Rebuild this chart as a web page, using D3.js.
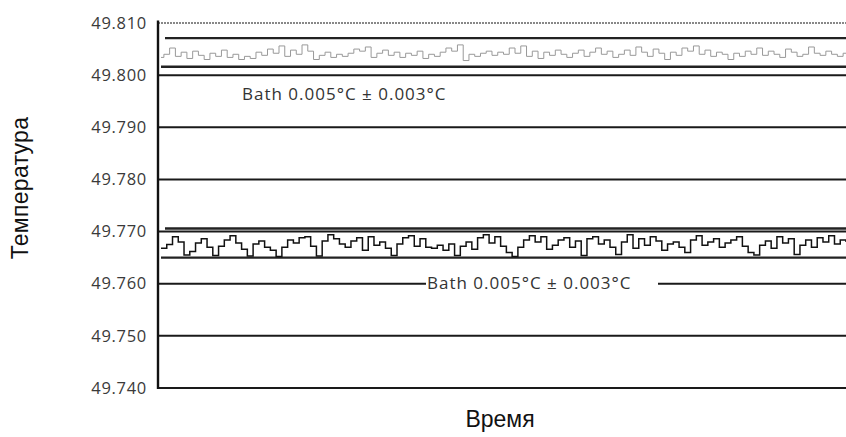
<!DOCTYPE html>
<html><head><meta charset="utf-8">
<script src="https://cdn.jsdelivr.net/npm/d3@7"></script>
<style>body{margin:0;background:#fff}svg{display:block}</style>
</head><body><svg id="c" width="846" height="437"></svg>
<script>
const yTicks = [49.740, 49.750, 49.760, 49.770, 49.780, 49.790, 49.800, 49.810];
const bandValues = [49.8071, 49.8016, 49.7706, 49.7650];
const labelText = "Bath 0.005°C ± 0.003°C";
const yTitle = "Температура";
const xTitle = "Время";
const graySeries = [
49.8034,49.8040,49.8052,49.8036,49.8044,49.8032,49.8046,49.8038,49.8030,49.8042,
49.8036,49.8048,49.8034,49.8040,49.8030,49.8036,49.8032,49.8044,49.8038,49.8050,
49.8042,49.8056,49.8036,49.8048,49.8040,49.8058,49.8046,49.8030,49.8038,49.8044,
49.8034,49.8040,49.8036,49.8042,49.8050,49.8046,49.8054,49.8034,49.8042,49.8048,
49.8038,49.8044,49.8034,49.8042,49.8038,49.8046,49.8032,49.8040,49.8036,49.8044,
49.8052,49.8046,49.8058,49.8028,49.8040,49.8036,49.8042,49.8046,49.8038,49.8044,
49.8040,49.8052,49.8042,49.8056,49.8036,49.8046,49.8032,49.8044,49.8038,49.8048,
49.8040,49.8034,49.8042,49.8048,49.8036,49.8044,49.8052,49.8040,49.8046,49.8034,
49.8040,49.8048,49.8038,49.8054,49.8044,49.8036,49.8050,49.8042,49.8030,49.8044,
49.8038,49.8052,49.8046,49.8056,49.8040,49.8048,49.8036,49.8044,49.8040,49.8030,
49.8042,49.8036,49.8046,49.8040,49.8052,49.8038,49.8046,49.8040,49.8034,49.8050,
49.8044,49.8036,49.8040,49.8054,49.8042,49.8038,49.8046,49.8040,49.8036,49.8042];
const blackSeries = [
49.7668,49.7675,49.7690,49.7680,49.7655,49.7662,49.7678,49.7686,49.7670,49.7654,
49.7672,49.7684,49.7692,49.7678,49.7666,49.7653,49.7676,49.7682,49.7670,49.7664,
49.7652,49.7670,49.7684,49.7678,49.7688,49.7690,49.7672,49.7653,49.7682,49.7694,
49.7686,49.7676,49.7670,49.7682,49.7688,49.7664,49.7690,49.7674,49.7680,49.7668,
49.7654,49.7676,49.7688,49.7692,49.7672,49.7686,49.7670,49.7668,49.7674,49.7664,
49.7676,49.7654,49.7672,49.7680,49.7666,49.7688,49.7694,49.7678,49.7690,49.7672,
49.7660,49.7652,49.7670,49.7684,49.7692,49.7680,49.7690,49.7666,49.7674,49.7684,
49.7688,49.7670,49.7682,49.7654,49.7686,49.7690,49.7676,49.7684,49.7670,49.7656,
49.7680,49.7694,49.7668,49.7686,49.7674,49.7690,49.7682,49.7664,49.7676,49.7680,
49.7670,49.7660,49.7684,49.7692,49.7674,49.7680,49.7686,49.7670,49.7678,49.7684,
49.7690,49.7672,49.7660,49.7655,49.7674,49.7682,49.7668,49.7690,49.7678,49.7686,
49.7656,49.7674,49.7684,49.7670,49.7688,49.7680,49.7692,49.7676,49.7684,49.7680];

(function () {
const svg = d3.select("#c");
const pL = 158, pR = 846, pT = 23, pB = 388;
const y = d3.scaleLinear().domain([49.740, 49.810]).range([pB, pT]);
const x = d3.scaleLinear().domain([0, graySeries.length - 1]).range([pL + 3, pR]);

const lowLabelStart = 427, lowLabelEnd = 658;
yTicks.forEach(t => {
  if (t === 49.810) {
    svg.append("line").attr("x1", pL).attr("x2", pR).attr("y1", y(t)).attr("y2", y(t))
      .attr("stroke", "#888").attr("stroke-width", 2).attr("stroke-dasharray", "2,1");
  } else if (t === 49.760) {
    svg.append("line").attr("x1", pL).attr("x2", lowLabelStart - 1).attr("y1", y(t)).attr("y2", y(t))
      .attr("stroke", "#1a1a1a").attr("stroke-width", 2);
    svg.append("line").attr("x1", lowLabelEnd).attr("x2", pR).attr("y1", y(t)).attr("y2", y(t))
      .attr("stroke", "#1a1a1a").attr("stroke-width", 2);
  } else {
    svg.append("line").attr("x1", pL).attr("x2", pR).attr("y1", y(t)).attr("y2", y(t))
      .attr("stroke", "#1a1a1a").attr("stroke-width", 2);
  }
});

bandValues.forEach((v, i) => {
  svg.append("line").attr("x1", (i % 2 === 0) ? pL + 7 : pL + 3).attr("x2", pR)
    .attr("y1", y(v)).attr("y2", y(v))
    .attr("stroke", "#222").attr("stroke-width", 2.4);
});

const grayGen = d3.line().x((d, i) => x(i)).y(d => y(d)).curve(d3.curveStep);
const blackGen = d3.line().x((d, i) => x(i)).y(d => y(d)).curve(d3.curveStepAfter);
svg.append("path").datum(graySeries).attr("d", grayGen)
  .attr("fill", "none").attr("stroke", "#999").attr("stroke-width", 1);
svg.append("path").datum(blackSeries).attr("d", blackGen)
  .attr("fill", "none").attr("stroke", "#111").attr("stroke-width", 1.5);

const axis = d3.axisLeft(y).tickValues(yTicks).tickFormat(d3.format(".3f")).tickSize(0).tickPadding(11);
const g = svg.append("g").attr("transform", `translate(${pL},0)`).call(axis);
g.select(".domain").remove();
g.selectAll("text").attr("font-family", "Open Sans").attr("font-size", 16.5)
  .attr("letter-spacing", "0.7px").attr("fill", "#3a3a3a");
svg.append("line").attr("x1", pL).attr("x2", pL).attr("y1", y(49.8105)).attr("y2", pB + 1)
  .attr("stroke", "#111").attr("stroke-width", 2.4);

svg.append("text").attr("x", 242).attr("y", y(49.7953)).text(labelText)
  .attr("font-family", "Open Sans").attr("font-size", 17).attr("letter-spacing", "1px").attr("fill", "#333");
svg.append("text").attr("x", lowLabelStart).attr("y", y(49.7589)).text(labelText)
  .attr("font-family", "Open Sans").attr("font-size", 17).attr("letter-spacing", "1px").attr("fill", "#333");

svg.append("text").attr("transform", "translate(28,188) rotate(-90)").attr("text-anchor", "middle")
  .text(yTitle).attr("font-family", "Liberation Sans, Arial").attr("font-size", 23).attr("letter-spacing", "0.3px").attr("fill", "#111");
svg.append("text").attr("x", 500).attr("y", 427).attr("text-anchor", "middle")
  .text(xTitle).attr("font-family", "Liberation Sans, Arial").attr("font-size", 23).attr("fill", "#111");
})();
</script></body></html>
